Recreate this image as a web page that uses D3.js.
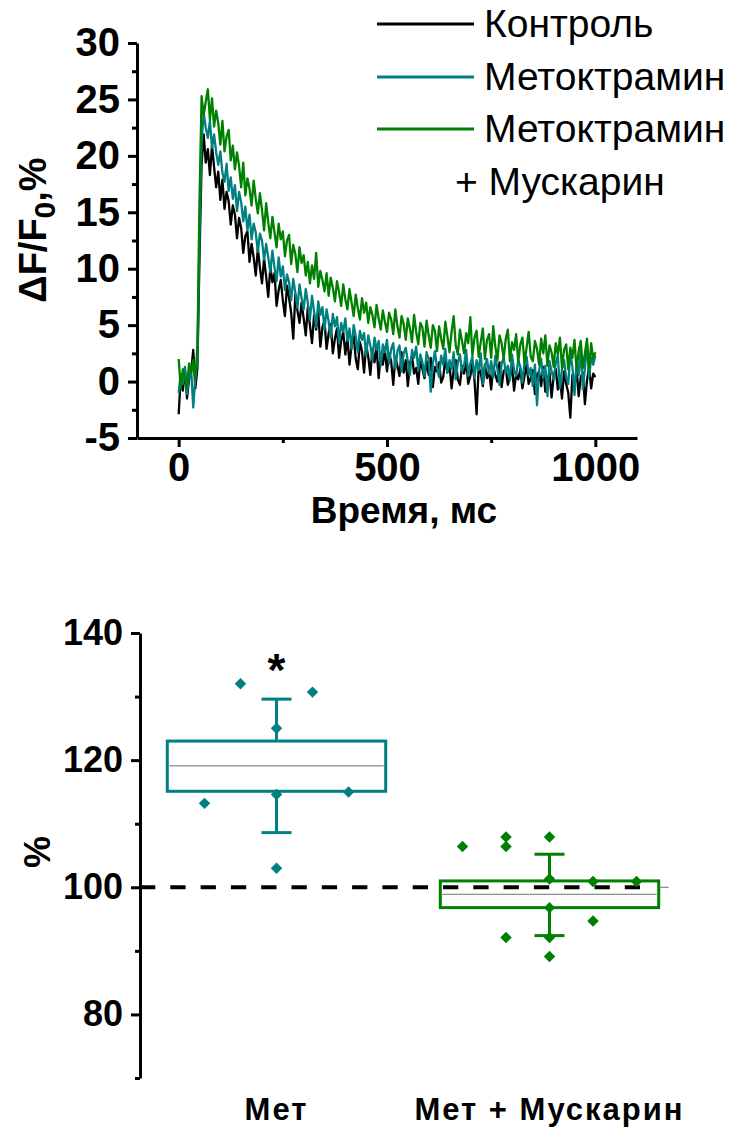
<!DOCTYPE html>
<html>
<head>
<meta charset="utf-8">
<script src="https://cdn.jsdelivr.net/npm/d3@7"></script>
<style>
  body { margin: 0; background: #fff; }
  text { font-family: "Liberation Sans", Arial, sans-serif; fill: #000; }
</style>
</head>
<body>
<div id="chart"></div>
<script>
// ---------- data: fluorescence transients (one sample every 5 ms, from 0 to 1000 ms) ----------
var sampleStep = 5;

var control = [
  -2.9, 0.4, -0.8, 1.1, -1.5, 0.2, 0.9, 2.8, -0.6, 1.2,
  11.0, 19.2, 21.9, 19.4, 20.6, 18.3, 20.9, 19.0, 17.2, 18.6,
  16.1, 17.9, 15.3, 16.8, 16.0, 13.9, 15.6, 14.8, 12.7, 14.5,
  13.6, 11.4, 12.9, 13.3, 10.6, 12.2, 11.0, 9.4, 11.8, 10.1,
  8.7, 10.9, 9.3, 7.5, 10.2, 8.8, 9.6, 6.7, 8.1, 9.0,
  7.2, 5.8, 8.5, 7.4, 6.1, 3.8, 7.7, 6.3, 5.2, 7.0,
  5.6, 4.1, 6.6, 5.0, 3.4, 5.9, 4.6, 6.2, 3.1, 4.8,
  5.4, 2.9, 4.3, 5.1, 2.5, 3.8, 4.7, 2.1, 3.6, 4.4,
  2.4, 3.9, 1.5, 3.2, 4.1, 2.0, 1.1, 3.5, 2.7, 0.8,
  3.3, 2.2, 0.6, 2.9, 1.7, 3.1, 0.3, 2.4, 1.5, 2.8,
  0.9, 2.5, 1.8, -0.3, 2.2, 1.4, 0.5, 2.6, 0.8, 1.9,
  -0.4, 1.6, 2.3, 0.7, 1.2, -0.2, 2.0, 1.1, 0.3, 1.8,
  0.6, 2.1, -0.5, 1.3, 0.9, 1.7, -0.1, 0.4, 2.0, 0.8,
  1.5, -0.6, 1.0, 1.9, 0.2, -0.3, 1.4, 0.7, 1.8, -0.2,
  0.5, 1.6, 0.1, -2.9, 1.2, 0.8, -0.4, 1.5, 0.3, 1.0,
  -0.7, 1.3, 0.6, 0.0, 1.7, -0.5, 0.9, 1.2, -0.3, 0.4,
  1.4, -0.8, 0.7, 0.2, 1.1, -0.6, 0.5, 1.5, -0.2, 0.3,
  1.0, -1.1, 0.6, 0.9, -0.4, 1.3, -0.9, 0.2, 0.8, -1.4,
  0.5, 1.1, -0.7, 0.3, -1.5, 0.9, -0.2, -1.0, -3.2, 0.6,
  -0.5, 1.2, -1.3, 0.4, 0.8, -2.0, 0.1, 1.3, -0.6, 0.7,
  0.4
];

var metoctramine = [
  -1.0, 0.7, -0.2, 1.3, -1.1, 0.5, 1.0, -2.3, 0.4, 1.7,
  13.0, 21.2, 23.8, 22.5, 21.6, 23.1, 20.7, 21.9, 20.3, 19.2,
  20.4, 18.5, 17.7, 19.3, 16.9, 18.1, 16.2, 17.4, 15.1, 16.8,
  15.9, 14.2, 15.5, 13.4, 14.8, 12.6, 14.0, 13.2, 11.5, 13.1,
  12.5, 10.8, 12.2, 11.0, 9.7, 11.6, 10.1, 8.9, 11.0, 9.3,
  10.2, 8.1, 9.5, 8.8, 7.2, 9.1, 7.9, 6.5, 8.6, 7.4,
  6.4, 8.2, 7.0, 5.5, 7.6, 6.2, 4.8, 7.1, 5.9, 6.6,
  4.6, 6.4, 5.3, 3.9, 6.0, 4.9, 5.7, 3.4, 5.2, 4.4,
  5.6, 3.6, 4.7, 2.9, 5.0, 4.0, 2.6, 4.5, 3.7, 4.3,
  2.3, 4.1, 3.2, 1.9, 3.9, 2.8, 3.6, 1.4, 3.3, 2.6,
  3.7, 1.6, 2.9, 3.4, 1.1, 2.7, 3.2, 0.9, 2.5, 3.0,
  1.8, 0.6, 2.8, 2.1, 3.1, 1.0, 2.4, 1.7, 0.5, 2.6,
  2.0, -0.9, 1.6, 2.7, 1.2, 0.4, 2.3, 1.5, 2.9, 0.8,
  1.9, 1.1, 2.6, 0.2, 1.7, 2.4, 0.9, 1.4, 2.8, 0.5,
  1.6, 2.2, 0.3, 1.9, 1.0, 2.5, -0.2, 1.3, 2.0, 0.7,
  1.8, 0.4, 2.3, 1.1, -0.3, 1.6, 2.1, 0.8, 1.4, 0.1,
  2.4, 1.0, 0.5, 1.9, 1.3, -0.1, 1.7, 2.2, 0.6, 1.2,
  -0.4, 1.5, -2.1, 1.0, 2.0, 0.3, 1.4, -1.3, 1.8, 0.9,
  0.2, 1.6, 2.3, -0.6, 1.1, 1.9, 0.4, -0.2, 2.5, 1.3,
  -1.2, 1.7, 0.6, 2.8, -0.7, 1.2, 3.3, 0.4, 2.1, 1.5,
  2.3
];

var metoctramineMuscarine = [
  2.0, -0.6, 1.1, 0.3, -0.5, 1.6, 0.8, 1.9, 0.2, 3.1,
  16.0, 25.3, 23.6, 24.8, 25.9, 23.2, 25.1, 22.6, 24.0, 22.9,
  21.0, 23.1, 20.4, 21.7, 22.3, 19.6, 20.9, 18.8, 20.3, 19.1,
  17.2, 19.4, 16.5, 18.0, 17.1, 15.6, 17.8, 16.2, 14.9, 16.7,
  15.2, 13.4, 15.8, 14.1, 12.7, 14.6, 13.2, 11.9, 14.0, 12.6,
  13.3, 11.1, 12.5, 13.0, 10.4, 12.1, 11.3, 9.7, 11.9, 10.5,
  11.2, 9.4, 10.6, 8.7, 10.3, 9.1, 11.4, 8.4, 9.8, 9.0,
  8.0, 9.6, 7.6, 9.2, 8.3, 7.1, 8.9, 7.9, 6.7, 8.6,
  7.3, 6.4, 8.2, 7.0, 5.8, 7.7, 6.5, 5.5, 7.4, 6.1,
  7.0, 5.2, 6.6, 5.9, 4.8, 6.8, 5.6, 4.6, 6.3, 5.3,
  4.4, 6.1, 5.5, 4.2, 6.4, 4.9, 3.9, 5.8, 5.1, 3.7,
  5.6, 4.7, 3.5, 5.9, 4.4, 3.3, 5.2, 4.8, 3.1, 5.4,
  4.1, 3.0, 5.0, 4.5, 2.7, 4.9, 3.8, 2.9, 5.3, 4.0,
  2.6, 4.4, 5.8, 3.2, 2.4, 4.6, 3.6, 2.5, 4.3, 3.4,
  5.7, 2.3, 3.9, 4.5, 2.2, 3.5, 4.7, 2.0, 3.7, 4.2,
  2.1, 4.9, 3.1, 1.9, 4.1, 3.4, 2.0, 3.8, 4.6, 1.8,
  3.5, 2.8, 4.2, 1.7, 3.3, 3.9, 1.6, 3.0, 4.4, 2.2,
  1.8, 3.6, 2.9, 1.5, 3.8, 2.5, 4.1, 1.4, 3.2, 2.6,
  1.3, 3.4, 2.4, 3.9, 1.2, 2.8, 3.3, 1.1, 3.0, 2.1,
  3.7, 1.0, 2.7, 3.6, 1.2, 2.5, 3.8, 0.9, 3.4, 2.0,
  2.6
];

var traceNames = ["Контроль", "Метоктрамин", "Метоктрамин"];
var traceColors = ["#000000", "#008080", "#008000"];

var timeTicks = [0, 500, 1000];
var timeMinorTicks = [250, 750];
var dfTicks = [-5, 0, 5, 10, 15, 20, 25, 30];
var dfMinorTicks = [-2.5, 2.5, 7.5, 12.5, 17.5, 22.5, 27.5];

// ---------- data: box chart, % of control ----------
var categories = ["Мет", "Мет + Мускарин"];
var boxColors = ["#008080", "#008000"];
var boxQ1 = [115.1, 96.8];
var boxQ3 = [123.0, 101.0];
var boxMean = [119.1, 98.9];
var whiskerLow = [108.6, 92.4];
var whiskerHigh = [129.6, 105.2];

var metValues = [113.2, 132.0, 125.0, 114.6, 130.7, 115.0, 103.0];
var metSlots = [-2, -1, 0, 0, 1, 2, 0];
var mixValues = [106.4, 107.9, 106.4, 107.9, 101.3, 100.9, 100.9, 96.8, 94.7, 92.1, 92.1, 89.1];
var mixSlots = [-2, -1, -1, 0, 0, 1, 2, 0, 1, -1, 0, 0];

var pctTicks = [80, 100, 120, 140];
var pctMinorTicks = [70, 90, 110, 130];

// ---------- svg ----------
var svgWidth = 737;
var svgHeight = 1131;

var svg = d3.select("#chart")
  .append("svg")
  .attr("width", svgWidth)
  .attr("height", svgHeight);

var plainNumber = d => String(d);

function styleAxis(g, fontSize) {
  g.attr("font-family", null);
  g.select(".domain").attr("stroke-width", 3);
  g.selectAll(".tick line").attr("stroke-width", 3);
  g.selectAll(".tick text")
    .attr("font-size", fontSize)
    .attr("font-weight", "bold");
}

function minorTicks(g) {
  g.select(".domain").remove();
  g.selectAll(".tick line").attr("stroke-width", 3);
}

// ================= top panel: traces =================
var xTime = d3.scaleLinear().domain([-100, 1100]).range([137, 637]);
var yDF = d3.scaleLinear().domain([-5, 30]).range([438, 43]);

var line = d3.line()
  .x((d, i) => xTime(i * sampleStep))
  .y(d => yDF(d));

var traces = [control, metoctramine, metoctramineMuscarine];

svg.append("g")
  .selectAll("path")
  .data(traces)
  .enter()
  .append("path")
  .attr("d", d => line(d))
  .attr("fill", "none")
  .attr("stroke", (d, i) => traceColors[i])
  .attr("stroke-width", 2.3)
  .attr("stroke-linejoin", "round");

// y axis
svg.append("g")
  .attr("transform", `translate(${xTime.range()[0]},0)`)
  .call(d3.axisLeft(yDF).tickValues(dfMinorTicks).tickSize(5).tickSizeOuter(0).tickFormat(""))
  .call(minorTicks);

svg.append("g")
  .attr("transform", `translate(${xTime.range()[0]},0)`)
  .call(d3.axisLeft(yDF).tickValues(dfTicks).tickSize(9).tickSizeOuter(0).tickPadding(8).tickFormat(plainNumber))
  .call(g => styleAxis(g, 40));

// x axis
svg.append("g")
  .attr("transform", `translate(0,${yDF.range()[0]})`)
  .call(d3.axisBottom(xTime).tickValues(timeMinorTicks).tickSize(5).tickSizeOuter(0).tickFormat(""))
  .call(minorTicks);

svg.append("g")
  .attr("transform", `translate(0,${yDF.range()[0]})`)
  .call(d3.axisBottom(xTime).tickValues(timeTicks).tickSize(9).tickSizeOuter(0).tickPadding(6).tickFormat(plainNumber))
  .call(g => styleAxis(g, 40));

// axis titles
svg.append("text")
  .attr("x", 404)
  .attr("y", 523)
  .attr("text-anchor", "middle")
  .attr("font-size", 37)
  .attr("font-weight", "bold")
  .text("Время, мс");

var yTitle = svg.append("text")
  .attr("transform", "translate(46,230) rotate(-90)")
  .attr("text-anchor", "middle")
  .attr("font-size", 38)
  .attr("font-weight", "bold");
yTitle.append("tspan").text("ΔF/F");
yTitle.append("tspan").attr("font-size", 30).attr("dy", 9).text("0");
yTitle.append("tspan").attr("dy", -9).text(",%");

// legend
var legendRows = [24, 77, 129];
var legend = svg.append("g");
legend.selectAll("line")
  .data(traceNames)
  .enter()
  .append("line")
  .attr("x1", 377)
  .attr("x2", 474)
  .attr("y1", (d, i) => legendRows[i])
  .attr("y2", (d, i) => legendRows[i])
  .attr("stroke", (d, i) => traceColors[i])
  .attr("stroke-width", 3);
legend.selectAll("text")
  .data(traceNames)
  .enter()
  .append("text")
  .attr("x", 484)
  .attr("y", (d, i) => legendRows[i] + 13)
  .attr("font-size", 39)
  .text(d => d);
legend.append("text")
  .attr("x", 455)
  .attr("y", legendRows[2] + 66)
  .attr("font-size", 39)
  .text("+ Мускарин");

// ================= bottom panel: box chart =================
var yPct = d3.scaleLinear().domain([70, 140]).range([1078, 633]);
var xCat = d3.scalePoint().domain(categories).range([140, 686]).padding(0.5);
var boxWidth = xCat.step() * 0.8;
var capHalf = 15;
var jitterStep = [36, 43.5];

svg.append("g")
  .attr("transform", "translate(140,0)")
  .call(d3.axisLeft(yPct).tickValues(pctMinorTicks).tickSize(5).tickSizeOuter(0).tickFormat(""))
  .call(minorTicks);

svg.append("g")
  .attr("transform", "translate(140,0)")
  .call(d3.axisLeft(yPct).tickValues(pctTicks).tickSize(9).tickSizeOuter(0).tickPadding(8).tickFormat(plainNumber))
  .call(g => styleAxis(g, 36));

svg.append("text")
  .attr("transform", "translate(50,852) rotate(-90)")
  .attr("text-anchor", "middle")
  .attr("font-size", 36)
  .attr("font-weight", "bold")
  .text("%");

var boxes = svg.append("g")
  .selectAll("g")
  .data(categories)
  .enter()
  .append("g");

// whiskers
boxes.append("line")
  .attr("x1", d => xCat(d)).attr("x2", d => xCat(d))
  .attr("y1", (d, i) => yPct(whiskerHigh[i])).attr("y2", (d, i) => yPct(boxQ3[i]))
  .attr("stroke", (d, i) => boxColors[i]).attr("stroke-width", 3);
boxes.append("line")
  .attr("x1", d => xCat(d)).attr("x2", d => xCat(d))
  .attr("y1", (d, i) => yPct(boxQ1[i])).attr("y2", (d, i) => yPct(whiskerLow[i]))
  .attr("stroke", (d, i) => boxColors[i]).attr("stroke-width", 3);
boxes.append("line")
  .attr("x1", d => xCat(d) - capHalf).attr("x2", d => xCat(d) + capHalf)
  .attr("y1", (d, i) => yPct(whiskerHigh[i])).attr("y2", (d, i) => yPct(whiskerHigh[i]))
  .attr("stroke", (d, i) => boxColors[i]).attr("stroke-width", 3);
boxes.append("line")
  .attr("x1", d => xCat(d) - capHalf).attr("x2", d => xCat(d) + capHalf)
  .attr("y1", (d, i) => yPct(whiskerLow[i])).attr("y2", (d, i) => yPct(whiskerLow[i]))
  .attr("stroke", (d, i) => boxColors[i]).attr("stroke-width", 3);

// box
boxes.append("rect")
  .attr("x", d => xCat(d) - boxWidth / 2)
  .attr("width", boxWidth)
  .attr("y", (d, i) => yPct(boxQ3[i]))
  .attr("height", (d, i) => yPct(boxQ1[i]) - yPct(boxQ3[i]))
  .attr("fill", "#fff")
  .attr("stroke", (d, i) => boxColors[i])
  .attr("stroke-width", 3);

// mean line
boxes.append("line")
  .attr("x1", d => xCat(d) - boxWidth / 2 + 2).attr("x2", d => xCat(d) + boxWidth / 2 - 2)
  .attr("y1", (d, i) => yPct(boxMean[i])).attr("y2", (d, i) => yPct(boxMean[i]))
  .attr("stroke", "#707070").attr("stroke-width", 1);

// reference line at 100 %
svg.append("line")
  .attr("x1", xCat(categories[1]) + boxWidth / 2).attr("x2", xCat(categories[1]) + boxWidth / 2 + 10)
  .attr("y1", yPct(100)).attr("y2", yPct(100))
  .attr("stroke", "#707070").attr("stroke-width", 1);
svg.append("line")
  .attr("x1", 140).attr("x2", 640)
  .attr("y1", yPct(100)).attr("y2", yPct(100))
  .attr("stroke", "#000").attr("stroke-width", 4)
  .attr("stroke-dasharray", "15.3,15");

// points
var diamond = d3.symbol().type(d3.symbolSquare).size(66);
var pointSets = [
  metValues.map((v, j) => ({ v: v, s: metSlots[j], g: 0 })),
  mixValues.map((v, j) => ({ v: v, s: mixSlots[j], g: 1 }))
];
svg.append("g")
  .selectAll("path")
  .data(pointSets.flat())
  .enter()
  .append("path")
  .attr("d", diamond)
  .attr("transform", d => `translate(${xCat(categories[d.g]) + d.s * jitterStep[d.g]},${yPct(d.v)}) rotate(45)`)
  .attr("fill", d => boxColors[d.g]);

// significance mark
svg.append("text")
  .attr("x", xCat(categories[0]))
  .attr("y", yPct(135.7) + 26)
  .attr("text-anchor", "middle")
  .attr("font-size", 46)
  .attr("font-weight", "bold")
  .text("*");

// category labels
svg.append("g")
  .selectAll("text")
  .data(categories)
  .enter()
  .append("text")
  .attr("x", d => xCat(d))
  .attr("y", 1120)
  .attr("text-anchor", "middle")
  .attr("font-size", 31)
  .attr("font-weight", "bold")
  .attr("letter-spacing", 2)
  .text(d => d);
</script>
</body>
</html>
